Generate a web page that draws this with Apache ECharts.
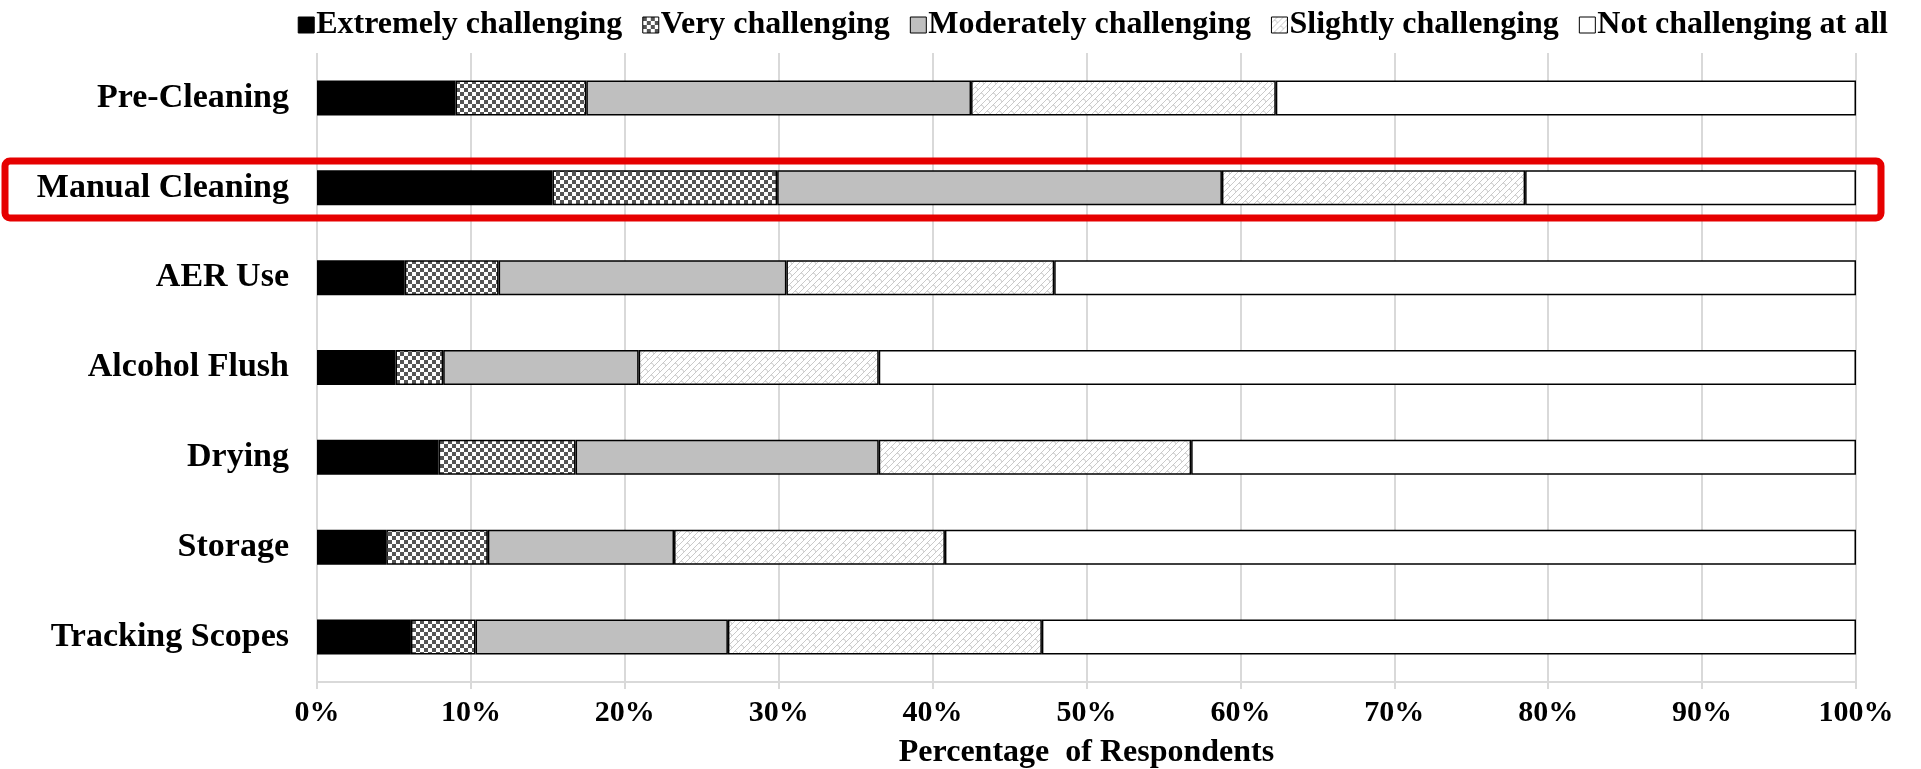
<!DOCTYPE html>
<html>
<head>
<meta charset="utf-8">
<script src="https://cdn.jsdelivr.net/npm/echarts@6/dist/echarts.min.js"></script>
<style>
  html, body { margin: 0; padding: 0; background: #fff; }
  #chart { width: 1921px; height: 769px; }
</style>
</head>
<body>
<div id="chart"></div>
<script>
// categories, top to bottom
const stages = ["Pre-Cleaning", "Manual Cleaning", "AER Use", "Alcohol Flush", "Drying", "Storage", "Tracking Scopes"];
const levels = ["Extremely challenging", "Very challenging", "Moderately challenging", "Slightly challenging", "Not challenging at all"];

// percent of respondents per stage
const extremely = [9.0, 15.3, 5.7, 5.1, 7.9, 4.5, 6.1];
const very = [8.5, 14.6, 6.1, 3.1, 8.9, 6.6, 4.2];
const moderately = [25.0, 28.9, 18.7, 12.7, 19.7, 12.1, 16.4];
const slightly = [19.8, 19.7, 17.4, 15.6, 20.3, 17.6, 20.4];
const notAtAll = [37.7, 21.5, 52.1, 63.5, 43.2, 59.2, 52.9];

const xTicks = [0, 10, 20, 30, 40, 50, 60, 70, 80, 90, 100];

// fill patterns
function checkerPattern() {
  const c = document.createElement("canvas");
  c.width = 8; c.height = 8;
  const g = c.getContext("2d");
  g.fillStyle = "#fff"; g.fillRect(0, 0, 8, 8);
  g.fillStyle = "#555";
  g.fillRect(0, 0, 4, 4);
  g.fillRect(4, 4, 4, 4);
  return { image: c, repeat: "repeat" };
}

function hatchPattern() {
  // light shingle-like diagonal pattern
  const c = document.createElement("canvas");
  c.width = 12; c.height = 12;
  const g = c.getContext("2d");
  g.fillStyle = "#fff"; g.fillRect(0, 0, 12, 12);
  g.strokeStyle = "#bcbcbc";
  g.lineWidth = 0.8;
  g.beginPath();
  g.moveTo(-1, 13); g.lineTo(13, -1);
  g.moveTo(5, 13); g.lineTo(13, 5);
  g.moveTo(-1, 7); g.lineTo(7, -1);
  g.moveTo(3, 3); g.quadraticCurveTo(5, 3, 6, 6);
  g.moveTo(9, 9); g.quadraticCurveTo(11, 9, 12, 12);
  g.stroke();
  return { image: c, repeat: "repeat" };
}

const fills = ["#000000", checkerPattern(), "#bfbfbf", hatchPattern(), "#ffffff"];
const values = [extremely, very, moderately, slightly, notAtAll];

const font = "Liberation Serif";

const chart = echarts.init(document.getElementById("chart"));
chart.setOption({
  backgroundColor: "#fff",
  animation: false,
  legend: {
    data: levels,
    top: 4,
    right: 28,
    icon: "rect",
    itemWidth: 16,
    itemHeight: 16,
    itemGap: 20,
    textStyle: { fontFamily: font, fontWeight: "bold", fontSize: 32, color: "#000", padding: [0, 0, 0, -3] },
    itemStyle: { borderColor: "#000", borderWidth: 1 },
  },
  grid: { left: 317, right: 65, top: 53, bottom: 87, outerBoundsMode: "none" },
  xAxis: {
    type: "value",
    min: 0,
    max: 100,
    interval: 10,
    name: "Percentage  of Respondents",
    nameLocation: "middle",
    nameGap: 55,
    nameTextStyle: { fontFamily: font, fontWeight: "bold", fontSize: 32, color: "#000" },
    axisLine: { show: true, lineStyle: { color: "#d9d9d9", width: 2 } },
    axisTick: { show: true, length: 7, lineStyle: { color: "#d9d9d9", width: 2 } },
    splitLine: { show: true, lineStyle: { color: "#d9d9d9", width: 2 } },
    axisLabel: {
      fontFamily: font, fontWeight: "bold", fontSize: 30, color: "#000", margin: 16,
      formatter: (v) => (xTicks.includes(v) ? v + "%" : ""),
    },
  },
  yAxis: {
    type: "category",
    data: stages,
    inverse: true,
    axisLine: { show: false },
    axisTick: { show: false },
    axisLabel: { fontFamily: font, fontWeight: "bold", fontSize: 34, color: "#000", margin: 28, padding: [9, 0, 0, 0] },
  },
  series: levels.map((name, i) => ({
    name: name,
    type: "bar",
    stack: "total",
    barWidth: 35,
    data: values[i],
    itemStyle: { color: fills[i], borderColor: "#000", borderWidth: 1.5 },
  })),
  graphic: [
    {
      type: "rect",
      shape: { x: 5, y: 161, width: 1876, height: 57, r: 5 },
      style: { fill: "none", stroke: "#e60000", lineWidth: 7 },
      z: 100,
    },
  ],
});
</script>
</body>
</html>
